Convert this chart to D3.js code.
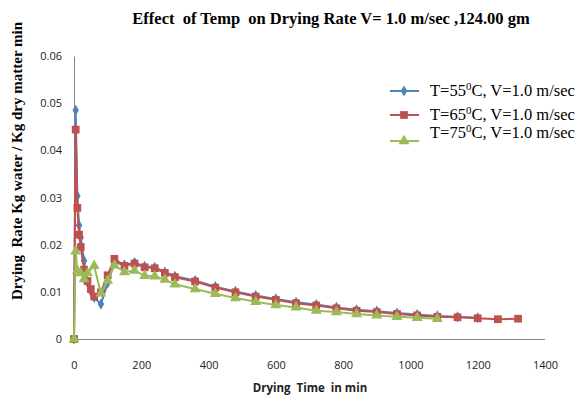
<!DOCTYPE html>
<html>
<head>
<meta charset="utf-8">
<script src="https://cdn.jsdelivr.net/npm/d3@7"></script>
<style>
  body { margin: 0; background: #fff; }
  svg { display: block; }
  text { white-space: pre; }
</style>
</head>
<body>
<div id="chart"></div>
<script>
// Drying rate vs time, three temperatures
var xTicks = [0, 200, 400, 600, 800, 1000, 1200, 1400];
var yTicks = [0, 0.01, 0.02, 0.03, 0.04, 0.05, 0.06];
var seriesNames = ["T=55", "T=65", "T=75"];

var t55 = [0, 5, 10, 15, 20, 30, 40, 50, 60, 80, 100, 120, 150, 180, 210, 240, 270, 300,
  360, 420, 480, 540, 600, 660, 720, 780, 840, 900, 960, 1020, 1080, 1140, 1200];
var r55 = [0, 0.0485, 0.0303, 0.0241, 0.0215, 0.0166, 0.0120, 0.0101, 0.0088, 0.0074, 0.0119, 0.0162,
  0.0157, 0.0162, 0.0154, 0.0152, 0.0142, 0.0133,
  0.0124, 0.0111, 0.0101, 0.0092, 0.0085, 0.0078, 0.0073, 0.0067, 0.0062, 0.0059, 0.0055, 0.0052, 0.0049, 0.0047, 0.0045];

var t65 = [0, 5, 10, 15, 20, 30, 40, 50, 60, 80, 100, 120, 150, 180, 210, 240, 270, 300,
  360, 420, 480, 540, 600, 660, 720, 780, 840, 900, 960, 1020, 1080, 1140, 1200, 1260, 1320];
var r65 = [0, 0.0444, 0.0278, 0.0221, 0.0195, 0.0147, 0.0123, 0.0106, 0.0090, 0.0099, 0.0135, 0.0170,
  0.0155, 0.0160, 0.0152, 0.0150, 0.0140, 0.0131,
  0.0122, 0.0109, 0.0099, 0.0090, 0.0083, 0.0076, 0.0071, 0.0065, 0.0060, 0.0057, 0.0053, 0.0050, 0.0047, 0.0046, 0.0044, 0.0042, 0.0043];

var t75 = [0, 5, 10, 20, 30, 40, 60, 80, 100, 120, 150, 180, 210, 240, 270, 300,
  360, 420, 480, 540, 600, 660, 720, 780, 840, 900, 960, 1020, 1080];
var r75 = [0, 0.0186, 0.0145, 0.0140, 0.0127, 0.0140, 0.0155, 0.0097, 0.0124, 0.0156, 0.0142, 0.0145, 0.0134, 0.0133, 0.0126, 0.0116,
  0.0106, 0.0096, 0.0087, 0.0079, 0.0072, 0.0067, 0.0060, 0.0057, 0.0053, 0.0050, 0.0047, 0.0045, 0.0043];

var colors = ["#4F81BD", "#C0504D", "#9BBB59"];
var shapes = [d3.symbolDiamond, d3.symbolSquare, d3.symbolTriangle];
var sizes = [36, 60, 52];

var width = 582, height = 401;
var plot = {left: 74, right: 545, top: 56, bottom: 339};

var svg = d3.select("#chart").append("svg")
  .attr("width", width)
  .attr("height", height);

var x = d3.scaleLinear().domain([0, 1400]).range([plot.left, plot.right]);
var y = d3.scaleLinear().domain([0, 0.06]).range([plot.bottom, plot.top]);

// Axes (no tick marks, grey lines)
var xAxis = svg.append("g")
  .attr("transform", "translate(0," + plot.bottom + ")")
  .call(d3.axisBottom(x).tickValues(xTicks).tickSize(0).tickPadding(22).tickFormat(d3.format("d")));
var yAxis = svg.append("g")
  .attr("transform", "translate(" + plot.left + ",0)")
  .call(d3.axisLeft(y).tickValues(yTicks).tickSize(0).tickPadding(12)
    .tickFormat(function (d) { return d === 0 ? "0" : d3.format(".2f")(d); }));

[xAxis, yAxis].forEach(function (a) {
  a.select(".domain").attr("stroke", "#868686").attr("stroke-width", 1);
  a.selectAll("text")
    .attr("font-family", "Open Sans, Liberation Sans, sans-serif")
    .attr("font-size", "11px")
    .attr("fill", "#222");
});
xAxis.select(".domain").attr("d", "M" + plot.left + ",0.5H" + plot.right);

// Series
var all = [[t55, r55], [t65, r65], [t75, r75]];
var line = d3.line().x(function (d) { return x(d[0]); }).y(function (d) { return y(d[1]); });

all.forEach(function (s, i) {
  var pts = d3.zip(s[0], s[1]);
  var g = svg.append("g");
  g.append("path")
    .datum(pts)
    .attr("d", line)
    .attr("fill", "none")
    .attr("stroke", colors[i])
    .attr("stroke-width", 2);
  g.selectAll("path.m")
    .data(pts)
    .enter()
    .append("path")
    .attr("class", "m")
    .attr("transform", function (d) { return "translate(" + x(d[0]) + "," + y(d[1]) + ")"; })
    .attr("d", d3.symbol().type(shapes[i]).size(sizes[i]))
    .attr("fill", colors[i]);
});

// Title
svg.append("text")
  .attr("x", 331)
  .attr("y", 24)
  .attr("text-anchor", "middle")
  .attr("font-family", "Liberation Serif, Times New Roman, serif")
  .attr("font-weight", "bold")
  .attr("font-size", "16.5px")
  .text("Effect  of Temp  on Drying Rate V= 1.0 m/sec ,124.00 gm");

// Axis titles
svg.append("text")
  .attr("transform", "translate(22,161) rotate(-90)")
  .attr("text-anchor", "middle")
  .attr("font-family", "Liberation Serif, Times New Roman, serif")
  .attr("font-weight", "bold")
  .attr("font-size", "15px")
  .text("Drying  Rate Kg water / Kg dry matter min");

svg.append("text")
  .attr("x", 310)
  .attr("y", 392)
  .attr("text-anchor", "middle")
  .attr("font-family", "Open Sans, Liberation Sans, sans-serif")
  .attr("font-weight", "bold")
  .attr("font-size", "11.5px")
  .attr("fill", "#222")
  .text("Drying  Time  in min");

// Legend
var legY = [91, 115, 141];
var legTextY = [96, 120, 138];
seriesNames.forEach(function (name, i) {
  var g = svg.append("g");
  g.append("line")
    .attr("x1", 390).attr("x2", 419)
    .attr("y1", legY[i]).attr("y2", legY[i])
    .attr("stroke", colors[i]).attr("stroke-width", 2);
  g.append("path")
    .attr("transform", "translate(404," + legY[i] + ")")
    .attr("d", d3.symbol().type(shapes[i]).size(sizes[i]))
    .attr("fill", colors[i]);
  var t = g.append("text")
    .attr("x", 430)
    .attr("y", legTextY[i])
    .attr("font-family", "Liberation Serif, Times New Roman, serif")
    .attr("font-size", "16.5px");
  t.append("tspan").text(name);
  t.append("tspan").attr("dy", -6).attr("font-size", "11px").text("0");
  t.append("tspan").attr("dy", 6).text("C, V=1.0 m/sec");
});
</script>
</body>
</html>
